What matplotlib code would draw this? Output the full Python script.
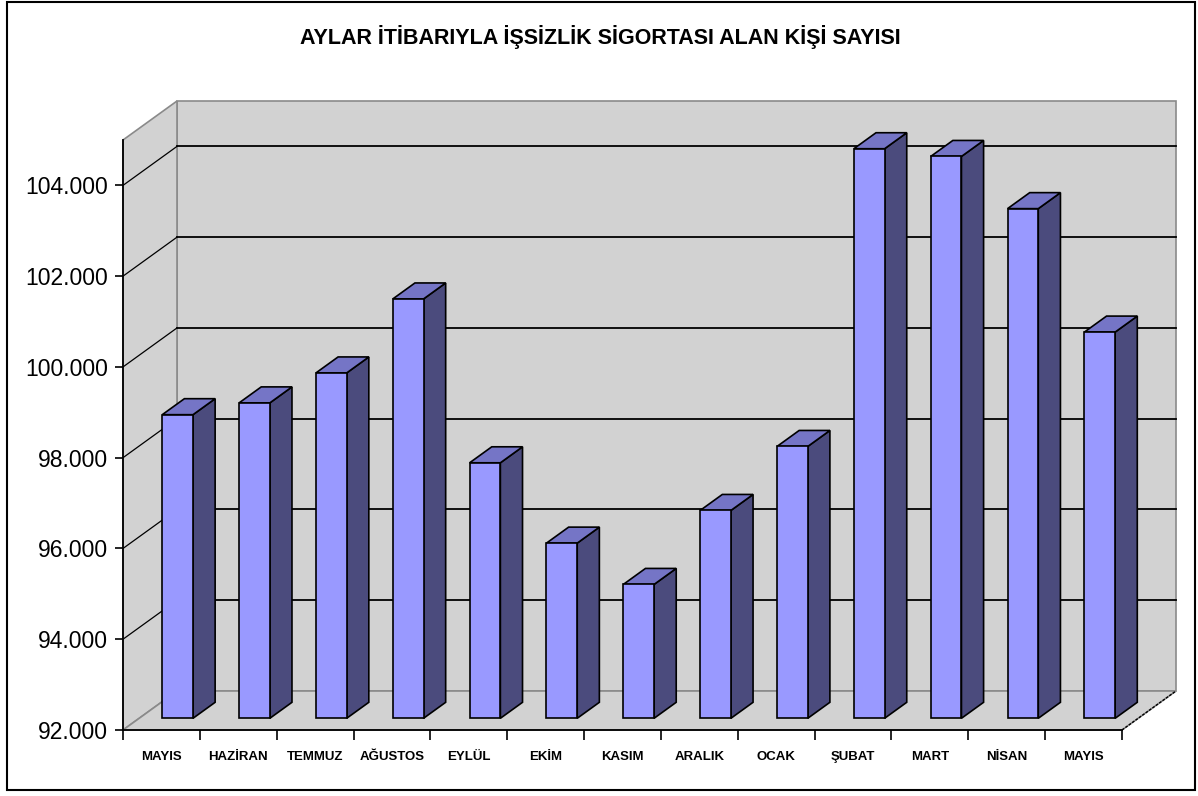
import matplotlib
matplotlib.use("Agg")
import matplotlib.pyplot as plt
from matplotlib.patches import Polygon, Rectangle
from matplotlib.ticker import FuncFormatter

# ---- data ----
months = ["MAYIS", "HAZİRAN", "TEMMUZ", "AĞUSTOS", "EYLÜL", "EKİM", "KASIM",
          "ARALIK", "OCAK", "ŞUBAT", "MART", "NİSAN", "MAYIS"]
values = [98690, 98950, 99610, 101240, 97630, 95860, 94950,
          96580, 97990, 104550, 104380, 103230, 100510]
y_ticks = [92000, 94000, 96000, 98000, 100000, 102000, 104000]
title = "AYLAR İTİBARIYLA İŞSİZLİK SİGORTASI ALAN KİŞİ SAYISI"

ymin, ymax = 92000, 105000
n = len(months)

W, H, DPI = 1198, 796, 100
fig = plt.figure(figsize=(W / DPI, H / DPI), dpi=DPI)
plt.rcParams['font.family'] = ['Liberation Sans', 'DejaVu Sans']

# front plane of the 3-D box in pixels
x0p, x1p, y0p, y1p = 123, 1122, 730, 140
ax = fig.add_axes([x0p / W, 1 - y0p / H, (x1p - x0p) / W, (y0p - y1p) / H])
ax.set_xlim(0, n)
ax.set_ylim(ymin, ymax)
ax.patch.set_alpha(0)

# depth offset (pixels) converted to data units
dpx, dpy = 54, 39
dX = dpx * n / (x1p - x0p)
dY = dpy * (ymax - ymin) / (y0p - y1p)


def P(x, y, d):
    return (x + d * dX, y + d * dY)


wall = '#d2d2d2'
wedge = '#8a8a8a'
kw = dict(clip_on=False)

# back wall
ax.add_patch(Polygon([P(0, ymin, 1), P(n, ymin, 1), P(n, ymax, 1), P(0, ymax, 1)],
                     closed=True, fc=wall, ec=wedge, lw=1.2, zorder=1, **kw))
# left wall
ax.add_patch(Polygon([P(0, ymin, 0), P(0, ymin, 1), P(0, ymax, 1), P(0, ymax, 0)],
                     closed=True, fc=wall, ec=wedge, lw=1.2, zorder=1, **kw))
# floor
ax.add_patch(Polygon([P(0, ymin, 0), P(n, ymin, 0), P(n, ymin, 1), P(0, ymin, 1)],
                     closed=True, fc=wall, ec=wedge, lw=1.2, zorder=1, **kw))
# floor right edge (darker)
xs, ys = zip(P(n, ymin, 0), P(n, ymin, 1))
ax.plot(xs, ys, color='black', lw=1.0, ls=(0, (2, 1)), zorder=2, **kw)

# gridlines
for v in y_ticks[1:]:
    xs, ys = zip(P(0, v, 1), P(n, v, 1))
    ax.plot(xs, ys, color='black', lw=1.3, zorder=2, **kw)
    xs, ys = zip(P(0, v, 0), P(0, v, 1))
    ax.plot(xs, ys, color='black', lw=0.9, zorder=2, **kw)

# bars
front_c, side_c, top_c = '#9999ff', '#4b4b7d', '#7575c6'
d0, d1 = 0.30, 0.71
bw = 0.4
for i, v in enumerate(values):
    xl = i + (1 - bw) / 2
    xr = xl + bw
    ax.add_patch(Polygon([P(xr, ymin, d0), P(xr, ymin, d1), P(xr, v, d1), P(xr, v, d0)],
                         closed=True, fc=side_c, ec='black', lw=1.2, zorder=3, **kw))
    ax.add_patch(Polygon([P(xl, v, d0), P(xr, v, d0), P(xr, v, d1), P(xl, v, d1)],
                         closed=True, fc=top_c, ec='black', lw=1.2, zorder=3, **kw))
    ax.add_patch(Polygon([P(xl, ymin, d0), P(xr, ymin, d0), P(xr, v, d0), P(xl, v, d0)],
                         closed=True, fc=front_c, ec='black', lw=1.2, zorder=4, **kw))

# axes
for s in ['top', 'right']:
    ax.spines[s].set_visible(False)
for s in ['left', 'bottom']:
    ax.spines[s].set_color('black')
    ax.spines[s].set_linewidth(1.3)
    ax.spines[s].set_zorder(5)

ax.set_yticks(y_ticks)
ax.yaxis.set_major_formatter(FuncFormatter(lambda v, p: f"{int(v):,}".replace(",", ".")))
ax.tick_params(axis='y', direction='out', length=6, width=1.2, labelsize=16.5,
               pad=5, colors='black')
ax.set_xticks(range(n + 1))
ax.set_xticklabels([])
ax.set_xticks([i + 0.5 for i in range(n)], minor=True)
ax.set_xticklabels(months, minor=True, fontsize=9.5, fontweight='bold')
for lbl in ax.get_xticklabels(minor=True):
    lbl.set_fontstretch('expanded')
ax.tick_params(axis='x', which='major', direction='out', length=7, width=1.2)
ax.tick_params(axis='x', which='minor', length=0, pad=15)

fig.text(600 / W, 1 - 37 / H, title, ha='center', va='center',
         fontsize=15.5, fontweight='bold')

# outer border
fig.add_artist(Rectangle((7 / W, 1 - 790 / H), (1195 - 7) / W, (790 - 2) / H,
                         transform=fig.transFigure, fill=False, ec='black', lw=1.5))

fig.savefig("out.png", dpi=DPI)
